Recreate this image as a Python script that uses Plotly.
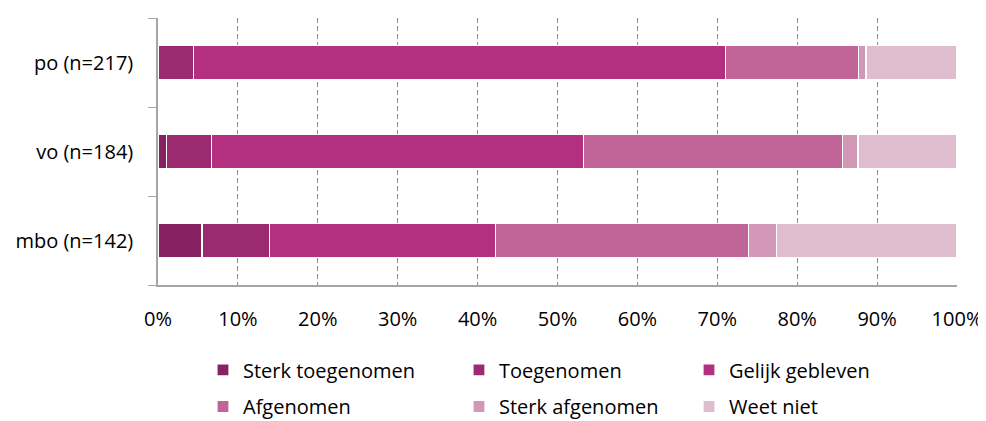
import plotly.graph_objects as go

groups = ['mbo (n=142)', 'vo (n=184)', 'po (n=217)']
answers = ['Sterk toegenomen', 'Toegenomen', 'Gelijk gebleven',
           'Afgenomen', 'Sterk afgenomen', 'Weet niet']

# percentages per answer, order: mbo, vo, po
sterk_toe = [5.5, 1.1, 0.0]
toe = [8.5, 5.6, 4.4]
gelijk = [28.2, 46.6, 66.6]
af = [31.7, 32.4, 16.7]
sterk_af = [3.5, 1.9, 0.9]
weet_niet = [22.6, 12.4, 11.4]

values = [sterk_toe, toe, gelijk, af, sterk_af, weet_niet]
colors = ['#862262', '#9C2A70', '#B2307F', '#C16498', '#D397B8', '#E0BCCF']

font = 'Open Sans, sans-serif'

# legend slots laid out like the Excel legend: 3 columns x 2 rows
legend_x = [0.0563, 0.3767, 0.6646]
legend_y = [-0.318, -0.455]

fig = go.Figure()
legends = {}
for i, (name, vals, col) in enumerate(zip(answers, values, colors)):
    key = 'legend' if i == 0 else f'legend{i + 1}'
    fig.add_trace(go.Bar(
        y=groups, x=vals, name=name, orientation='h',
        marker=dict(color=col, line=dict(color='white', width=1.2)),
        legend=key, showlegend=True,
    ))
    legends[key] = dict(
        x=legend_x[i % 3], y=legend_y[i // 3],
        xanchor='left', yanchor='middle', orientation='h',
        font=dict(family=font, size=20, color='#000'),
        itemwidth=30, bgcolor='rgba(0,0,0,0)',
    )

# the page body has an 8px margin, so the figure is a bit smaller than the window
fig.update_layout(
    barmode='stack',
    bargap=0.62,
    width=978, height=413,
    showlegend=True,
    margin=dict(l=150, r=29, t=10, b=136, autoexpand=False),
    paper_bgcolor='white', plot_bgcolor='white',
    font=dict(family=font, size=20, color='#000'),
    xaxis=dict(
        range=[0, 100], tickvals=list(range(0, 101, 10)),
        ticktext=[f'{v}%' for v in range(0, 101, 10)],
        showgrid=True, gridcolor='#8c8c8c', griddash='5px,3px', gridwidth=1,
        showline=True, linecolor='#a6a6a6', linewidth=1.5,
        zeroline=False, ticks='', ticklabelstandoff=15,
        automargin=False,
    ),
    yaxis=dict(
        categoryorder='array', categoryarray=groups,
        showline=True, linecolor='#a6a6a6', linewidth=1.5,
        ticks='outside', tickson='boundaries', ticklen=8, tickcolor='#a6a6a6',
        ticklabelstandoff=19, showgrid=False, automargin=False,
    ),
    **legends,
)

fig.write_html('out.html')
